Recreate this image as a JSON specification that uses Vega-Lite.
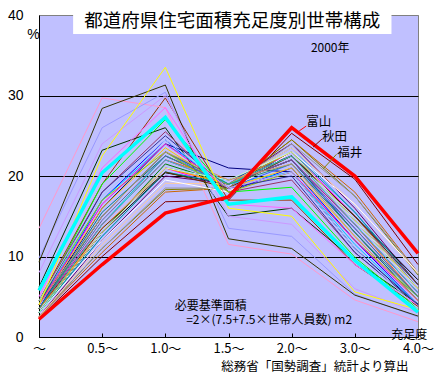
{
"$schema": "https://vega.github.io/schema/vega-lite/v6.json",
"width": 379, "height": 322,
"autosize": "none",
"padding": {"left": 39, "top": 15, "right": 28, "bottom": 36},
"background": "white",
"config": {"view": {"fill": "#c0c0ff", "stroke": "#808080"}, "font": "Noto Sans CJK JP"},
"datasets": {"pref": [
{"p":"北海道","i":0,"v":3.5},{"p":"北海道","i":1,"v":16},{"p":"北海道","i":2,"v":24},{"p":"北海道","i":3,"v":21},{"p":"北海道","i":4,"v":20.5},{"p":"北海道","i":5,"v":11},{"p":"北海道","i":6,"v":4},
{"p":"青森","i":0,"v":3},{"p":"青森","i":1,"v":13},{"p":"青森","i":2,"v":21},{"p":"青森","i":3,"v":18.5},{"p":"青森","i":4,"v":23},{"p":"青森","i":5,"v":15},{"p":"青森","i":6,"v":6.5},
{"p":"岩手","i":0,"v":3},{"p":"岩手","i":1,"v":12.5},{"p":"岩手","i":2,"v":20.5},{"p":"岩手","i":3,"v":19},{"p":"岩手","i":4,"v":23.5},{"p":"岩手","i":5,"v":15.5},{"p":"岩手","i":6,"v":6},
{"p":"宮城","i":0,"v":3.5},{"p":"宮城","i":1,"v":17},{"p":"宮城","i":2,"v":24.5},{"p":"宮城","i":3,"v":18},{"p":"宮城","i":4,"v":21},{"p":"宮城","i":5,"v":12},{"p":"宮城","i":6,"v":4},
{"p":"秋田","i":0,"v":2.3},{"p":"秋田","i":1,"v":10},{"p":"秋田","i":2,"v":16.8},{"p":"秋田","i":3,"v":17},{"p":"秋田","i":4,"v":25.3},{"p":"秋田","i":5,"v":19.6},{"p":"秋田","i":6,"v":9},
{"p":"山形","i":0,"v":2.5},{"p":"山形","i":1,"v":10.5},{"p":"山形","i":2,"v":18},{"p":"山形","i":3,"v":18.5},{"p":"山形","i":4,"v":24.5},{"p":"山形","i":5,"v":18},{"p":"山形","i":6,"v":8},
{"p":"福島","i":0,"v":3},{"p":"福島","i":1,"v":14},{"p":"福島","i":2,"v":22.5},{"p":"福島","i":3,"v":19},{"p":"福島","i":4,"v":22},{"p":"福島","i":5,"v":14},{"p":"福島","i":6,"v":5.5},
{"p":"茨城","i":0,"v":3},{"p":"茨城","i":1,"v":14},{"p":"茨城","i":2,"v":22},{"p":"茨城","i":3,"v":19.5},{"p":"茨城","i":4,"v":22.5},{"p":"茨城","i":5,"v":14},{"p":"茨城","i":6,"v":5},
{"p":"栃木","i":0,"v":3.5},{"p":"栃木","i":1,"v":15},{"p":"栃木","i":2,"v":23},{"p":"栃木","i":3,"v":19},{"p":"栃木","i":4,"v":22},{"p":"栃木","i":5,"v":13},{"p":"栃木","i":6,"v":4.5},
{"p":"群馬","i":0,"v":3.5},{"p":"群馬","i":1,"v":15.5},{"p":"群馬","i":2,"v":22.5},{"p":"群馬","i":3,"v":19},{"p":"群馬","i":4,"v":22},{"p":"群馬","i":5,"v":13},{"p":"群馬","i":6,"v":4.5},
{"p":"埼玉","i":0,"v":5.8},{"p":"埼玉","i":1,"v":20.4},{"p":"埼玉","i":2,"v":27.3},{"p":"埼玉","i":3,"v":16.5},{"p":"埼玉","i":4,"v":17.4},{"p":"埼玉","i":5,"v":9.5},{"p":"埼玉","i":6,"v":3.1},
{"p":"千葉","i":0,"v":4.5},{"p":"千葉","i":1,"v":19},{"p":"千葉","i":2,"v":29.7},{"p":"千葉","i":3,"v":17},{"p":"千葉","i":4,"v":17},{"p":"千葉","i":5,"v":9},{"p":"千葉","i":6,"v":3.8},
{"p":"東京","i":0,"v":13.5},{"p":"東京","i":1,"v":29.7},{"p":"東京","i":2,"v":28.5},{"p":"東京","i":3,"v":11.5},{"p":"東京","i":4,"v":10.3},{"p":"東京","i":5,"v":4.6},{"p":"東京","i":6,"v":1.9},
{"p":"神奈川","i":0,"v":6.2},{"p":"神奈川","i":1,"v":23.2},{"p":"神奈川","i":2,"v":26},{"p":"神奈川","i":3,"v":15},{"p":"神奈川","i":4,"v":16},{"p":"神奈川","i":5,"v":9.5},{"p":"神奈川","i":6,"v":4.1},
{"p":"新潟","i":0,"v":2.5},{"p":"新潟","i":1,"v":12},{"p":"新潟","i":2,"v":20},{"p":"新潟","i":3,"v":19},{"p":"新潟","i":4,"v":24},{"p":"新潟","i":5,"v":16},{"p":"新潟","i":6,"v":6.5},
{"p":"富山","i":0,"v":2.2},{"p":"富山","i":1,"v":9},{"p":"富山","i":2,"v":15.4},{"p":"富山","i":3,"v":17.4},{"p":"富山","i":4,"v":26},{"p":"富山","i":5,"v":20},{"p":"富山","i":6,"v":10.4},
{"p":"石川","i":0,"v":3},{"p":"石川","i":1,"v":13},{"p":"石川","i":2,"v":21.5},{"p":"石川","i":3,"v":19},{"p":"石川","i":4,"v":23},{"p":"石川","i":5,"v":14.5},{"p":"石川","i":6,"v":6},
{"p":"福井","i":0,"v":2.5},{"p":"福井","i":1,"v":11},{"p":"福井","i":2,"v":18.3},{"p":"福井","i":3,"v":18.5},{"p":"福井","i":4,"v":24.5},{"p":"福井","i":5,"v":17.5},{"p":"福井","i":6,"v":7.7},
{"p":"山梨","i":0,"v":3.5},{"p":"山梨","i":1,"v":14},{"p":"山梨","i":2,"v":22},{"p":"山梨","i":3,"v":19},{"p":"山梨","i":4,"v":22},{"p":"山梨","i":5,"v":14},{"p":"山梨","i":6,"v":5.5},
{"p":"長野","i":0,"v":3},{"p":"長野","i":1,"v":13},{"p":"長野","i":2,"v":21},{"p":"長野","i":3,"v":19.5},{"p":"長野","i":4,"v":22.5},{"p":"長野","i":5,"v":15},{"p":"長野","i":6,"v":6},
{"p":"岐阜","i":0,"v":2.5},{"p":"岐阜","i":1,"v":11},{"p":"岐阜","i":2,"v":18.5},{"p":"岐阜","i":3,"v":18.5},{"p":"岐阜","i":4,"v":24},{"p":"岐阜","i":5,"v":17.5},{"p":"岐阜","i":6,"v":8},
{"p":"静岡","i":0,"v":4},{"p":"静岡","i":1,"v":17},{"p":"静岡","i":2,"v":24},{"p":"静岡","i":3,"v":19},{"p":"静岡","i":4,"v":20.5},{"p":"静岡","i":5,"v":11.5},{"p":"静岡","i":6,"v":4},
{"p":"愛知","i":0,"v":4},{"p":"愛知","i":1,"v":19},{"p":"愛知","i":2,"v":27},{"p":"愛知","i":3,"v":18},{"p":"愛知","i":4,"v":18.6},{"p":"愛知","i":5,"v":9.9},{"p":"愛知","i":6,"v":3.5},
{"p":"三重","i":0,"v":3},{"p":"三重","i":1,"v":13.5},{"p":"三重","i":2,"v":21},{"p":"三重","i":3,"v":19},{"p":"三重","i":4,"v":22.5},{"p":"三重","i":5,"v":15},{"p":"三重","i":6,"v":6},
{"p":"滋賀","i":0,"v":2.5},{"p":"滋賀","i":1,"v":11.5},{"p":"滋賀","i":2,"v":19.1},{"p":"滋賀","i":3,"v":19},{"p":"滋賀","i":4,"v":23.5},{"p":"滋賀","i":5,"v":16.5},{"p":"滋賀","i":6,"v":7.9},
{"p":"京都","i":0,"v":9.8},{"p":"京都","i":1,"v":26},{"p":"京都","i":2,"v":30.4},{"p":"京都","i":3,"v":13.5},{"p":"京都","i":4,"v":12.5},{"p":"京都","i":5,"v":5.3},{"p":"京都","i":6,"v":2.5},
{"p":"大阪","i":0,"v":9.3},{"p":"大阪","i":1,"v":28.4},{"p":"大阪","i":2,"v":31.3},{"p":"大阪","i":3,"v":12.2},{"p":"大阪","i":4,"v":11},{"p":"大阪","i":5,"v":5.2},{"p":"大阪","i":6,"v":2.6},
{"p":"兵庫","i":0,"v":8},{"p":"兵庫","i":1,"v":24},{"p":"兵庫","i":2,"v":30},{"p":"兵庫","i":3,"v":15},{"p":"兵庫","i":4,"v":14},{"p":"兵庫","i":5,"v":6},{"p":"兵庫","i":6,"v":3},
{"p":"奈良","i":0,"v":3},{"p":"奈良","i":1,"v":12},{"p":"奈良","i":2,"v":19.5},{"p":"奈良","i":3,"v":18},{"p":"奈良","i":4,"v":23},{"p":"奈良","i":5,"v":16.5},{"p":"奈良","i":6,"v":8},
{"p":"和歌山","i":0,"v":3},{"p":"和歌山","i":1,"v":13},{"p":"和歌山","i":2,"v":20.4},{"p":"和歌山","i":3,"v":19},{"p":"和歌山","i":4,"v":22.5},{"p":"和歌山","i":5,"v":15},{"p":"和歌山","i":6,"v":7.1},
{"p":"鳥取","i":0,"v":3},{"p":"鳥取","i":1,"v":12.5},{"p":"鳥取","i":2,"v":20.5},{"p":"鳥取","i":3,"v":19},{"p":"鳥取","i":4,"v":23},{"p":"鳥取","i":5,"v":15.5},{"p":"鳥取","i":6,"v":6.5},
{"p":"島根","i":0,"v":3.5},{"p":"島根","i":1,"v":13.5},{"p":"島根","i":2,"v":20.5},{"p":"島根","i":3,"v":18.5},{"p":"島根","i":4,"v":22.5},{"p":"島根","i":5,"v":15},{"p":"島根","i":6,"v":6.5},
{"p":"岡山","i":0,"v":3.5},{"p":"岡山","i":1,"v":15},{"p":"岡山","i":2,"v":23},{"p":"岡山","i":3,"v":18.5},{"p":"岡山","i":4,"v":21.5},{"p":"岡山","i":5,"v":13.5},{"p":"岡山","i":6,"v":5},
{"p":"広島","i":0,"v":4.5},{"p":"広島","i":1,"v":18},{"p":"広島","i":2,"v":25.5},{"p":"広島","i":3,"v":18},{"p":"広島","i":4,"v":19.5},{"p":"広島","i":5,"v":10.5},{"p":"広島","i":6,"v":4},
{"p":"山口","i":0,"v":3.5},{"p":"山口","i":1,"v":14.5},{"p":"山口","i":2,"v":22.5},{"p":"山口","i":3,"v":19},{"p":"山口","i":4,"v":22},{"p":"山口","i":5,"v":13.5},{"p":"山口","i":6,"v":5},
{"p":"徳島","i":0,"v":3.5},{"p":"徳島","i":1,"v":13},{"p":"徳島","i":2,"v":21},{"p":"徳島","i":3,"v":19},{"p":"徳島","i":4,"v":23},{"p":"徳島","i":5,"v":14.5},{"p":"徳島","i":6,"v":6},
{"p":"香川","i":0,"v":3},{"p":"香川","i":1,"v":14},{"p":"香川","i":2,"v":22},{"p":"香川","i":3,"v":19},{"p":"香川","i":4,"v":22.5},{"p":"香川","i":5,"v":14},{"p":"香川","i":6,"v":5.5},
{"p":"愛媛","i":0,"v":4},{"p":"愛媛","i":1,"v":16},{"p":"愛媛","i":2,"v":23.5},{"p":"愛媛","i":3,"v":18.5},{"p":"愛媛","i":4,"v":21},{"p":"愛媛","i":5,"v":12.5},{"p":"愛媛","i":6,"v":4.5},
{"p":"高知","i":0,"v":4.5},{"p":"高知","i":1,"v":17},{"p":"高知","i":2,"v":23},{"p":"高知","i":3,"v":18},{"p":"高知","i":4,"v":20.5},{"p":"高知","i":5,"v":12},{"p":"高知","i":6,"v":5},
{"p":"福岡","i":0,"v":5},{"p":"福岡","i":1,"v":21},{"p":"福岡","i":2,"v":28.5},{"p":"福岡","i":3,"v":16.5},{"p":"福岡","i":4,"v":16},{"p":"福岡","i":5,"v":9},{"p":"福岡","i":6,"v":4},
{"p":"佐賀","i":0,"v":3},{"p":"佐賀","i":1,"v":13},{"p":"佐賀","i":2,"v":21},{"p":"佐賀","i":3,"v":19.5},{"p":"佐賀","i":4,"v":23},{"p":"佐賀","i":5,"v":14.5},{"p":"佐賀","i":6,"v":6},
{"p":"長崎","i":0,"v":4},{"p":"長崎","i":1,"v":18},{"p":"長崎","i":2,"v":25},{"p":"長崎","i":3,"v":18.5},{"p":"長崎","i":4,"v":20},{"p":"長崎","i":5,"v":10.5},{"p":"長崎","i":6,"v":4},
{"p":"熊本","i":0,"v":3.5},{"p":"熊本","i":1,"v":15},{"p":"熊本","i":2,"v":23},{"p":"熊本","i":3,"v":19},{"p":"熊本","i":4,"v":21.5},{"p":"熊本","i":5,"v":13},{"p":"熊本","i":6,"v":5},
{"p":"大分","i":0,"v":4},{"p":"大分","i":1,"v":16.5},{"p":"大分","i":2,"v":24},{"p":"大分","i":3,"v":18.5},{"p":"大分","i":4,"v":20.5},{"p":"大分","i":5,"v":12},{"p":"大分","i":6,"v":4.5},
{"p":"宮崎","i":0,"v":4},{"p":"宮崎","i":1,"v":15},{"p":"宮崎","i":2,"v":23},{"p":"宮崎","i":3,"v":19.5},{"p":"宮崎","i":4,"v":21.5},{"p":"宮崎","i":5,"v":12.5},{"p":"宮崎","i":6,"v":4.5},
{"p":"鹿児島","i":0,"v":4.5},{"p":"鹿児島","i":1,"v":17.5},{"p":"鹿児島","i":2,"v":24.5},{"p":"鹿児島","i":3,"v":18.5},{"p":"鹿児島","i":4,"v":20.5},{"p":"鹿児島","i":5,"v":11},{"p":"鹿児島","i":6,"v":3.5},
{"p":"沖縄","i":0,"v":4},{"p":"沖縄","i":1,"v":22.5},{"p":"沖縄","i":2,"v":33.5},{"p":"沖縄","i":3,"v":16},{"p":"沖縄","i":4,"v":15},{"p":"沖縄","i":5,"v":5.6},{"p":"沖縄","i":6,"v":3.4}
]},
"layer": [
{
 "data": {"name": "pref"},
 "transform": [{"filter": "datum.p !== '富山' && datum.p !== '埼玉'"}],
 "mark": {"type": "line", "strokeWidth": 1},
 "encoding": {
  "x": {"field": "i", "type": "quantitative", "scale": {"domain": [0, 6], "nice": false, "zero": false},
   "axis": {"values": [0,1,2,3,4,5,6], "labelExpr": "['～','0.5～','1.0～','1.5～','2.0～','3.0～','4.0～'][datum.value]", "grid": false, "domainColor": "black", "tickColor": "black", "tickSize": -4, "labelPadding": 9, "labelFontSize": 13, "labelColor": "black", "labelFont": "Noto Sans CJK JP", "labelFlush": false, "labelOverlap": false, "title": "総務省「国勢調査」統計より算出", "titleX": 369, "titleY": 29, "titleAlign": "right", "titleAnchor": null, "titleBaseline": "middle", "titleFontWeight": "normal", "titleFontSize": 12.5, "titleColor": "black", "titleFont": "Noto Sans CJK JP"}},
  "y": {"field": "v", "type": "quantitative", "scale": {"domain": [0, 40], "nice": false},
   "axis": {"values": [0,10,20,30,40], "grid": true, "gridColor": {"condition": {"test": "datum.value === 40", "value": "#808080"}, "value": "black"}, "gridOpacity": 1, "ticks": false, "domainColor": "black", "labelPadding": 16, "labelFontSize": 14, "labelColor": "black", "labelFont": "Liberation Sans", "title": "%", "titleAngle": 0, "titleX": -6, "titleY": 19, "titleAlign": "center", "titleBaseline": "middle", "titleFontSize": 14, "titleFontWeight": "normal", "titleColor": "black", "titleFont": "Liberation Sans"}},
  "color": {"field": "p", "type": "nominal", "legend": null, "scale": {
   "domain": ["北海道","青森","岩手","宮城","秋田","山形","福島","茨城","栃木","群馬","埼玉","千葉","東京","神奈川","新潟","富山","石川","福井","山梨","長野","岐阜","静岡","愛知","三重","滋賀","京都","大阪","兵庫","奈良","和歌山","鳥取","島根","岡山","広島","山口","徳島","香川","愛媛","高知","福岡","佐賀","長崎","熊本","大分","宮崎","鹿児島","沖縄"],
   "range": ["#000080","#ff00ff","#3399ff","#0000ff","#800000","#cc6600","#00cccc","#ff6600","#800080","#008080","#00ffff","#993300","#ff99cc","#003300","#660066","#ff0000","#008000","#808000","#cc0099","#0066cc","#969696","#00ccff","#00ff00","#ffa040","#ffcc99","#9999ff","#333300","#cc99ff","#ffffff","#000000","#009999","#663300","#3366ff","#993366","#666699","#ff9900","#33cccc","#ffcc00","#99cc00","#ff66ff","#ccffcc","#333399","#339966","#ff00cc","#cc9966","#99ccff","#ffff00"]}}
 }
},
{
 "data": {"name": "pref"},
 "transform": [{"filter": "datum.p === '埼玉'"}],
 "mark": {"type": "line", "strokeWidth": 3.5, "color": "#00ffff"},
 "encoding": {"x": {"field": "i", "type": "quantitative"}, "y": {"field": "v", "type": "quantitative"}}
},
{
 "data": {"name": "pref"},
 "transform": [{"filter": "datum.p === '富山'"}],
 "mark": {"type": "line", "strokeWidth": 3.5, "color": "#ff0000"},
 "encoding": {"x": {"field": "i", "type": "quantitative"}, "y": {"field": "v", "type": "quantitative"}}
},
{
 "data": {"values": [{}]},
 "mark": {"type": "rect", "fill": "white"},
 "encoding": {"x": {"datum": 0.54}, "x2": {"datum": 5.58}, "y": {"datum": 40.1}, "y2": {"datum": 37.64}}
},
{
 "data": {"values": [{}]},
 "mark": {"type": "text", "text": "都道府県住宅面積充足度別世帯構成", "fontSize": 18.5, "font": "Noto Sans CJK JP", "align": "center", "baseline": "middle", "color": "black"},
 "encoding": {"x": {"datum": 3.06}, "y": {"datum": 39.2}}
},
{
 "data": {"values": [{}]},
 "mark": {"type": "text", "text": "2000年", "fontSize": 12, "font": "Noto Sans CJK JP", "align": "center", "baseline": "middle", "color": "black"},
 "encoding": {"x": {"datum": 4.61}, "y": {"datum": 35.9}}
},
{
 "data": {"values": [{}]},
 "mark": {"type": "rule", "color": "#ff0000", "strokeWidth": 1},
 "encoding": {"x": {"datum": 4.12}, "y": {"datum": 25.6}, "x2": {"datum": 4.23}, "y2": {"datum": 26.2}}
},
{
 "data": {"values": [{}]},
 "mark": {"type": "rule", "color": "#800000", "strokeWidth": 1},
 "encoding": {"x": {"datum": 4.34}, "y": {"datum": 23.6}, "x2": {"datum": 4.48}, "y2": {"datum": 24.6}}
},
{
 "data": {"values": [{}]},
 "mark": {"type": "rule", "color": "#808000", "strokeWidth": 1},
 "encoding": {"x": {"datum": 4.5}, "y": {"datum": 20.9}, "x2": {"datum": 4.71}, "y2": {"datum": 22.7}}
},
{
 "data": {"values": [{}]},
 "mark": {"type": "text", "text": "富山", "fontSize": 12.5, "font": "Noto Sans CJK JP", "align": "left", "baseline": "middle", "color": "black"},
 "encoding": {"x": {"datum": 4.23}, "y": {"datum": 26.7}}
},
{
 "data": {"values": [{}]},
 "mark": {"type": "text", "text": "秋田", "fontSize": 12.5, "font": "Noto Sans CJK JP", "align": "left", "baseline": "middle", "color": "black"},
 "encoding": {"x": {"datum": 4.48}, "y": {"datum": 24.8}}
},
{
 "data": {"values": [{}]},
 "mark": {"type": "text", "text": "福井", "fontSize": 12.5, "font": "Noto Sans CJK JP", "align": "left", "baseline": "middle", "color": "black"},
 "encoding": {"x": {"datum": 4.72}, "y": {"datum": 22.9}}
},
{
 "data": {"values": [{}]},
 "mark": {"type": "text", "text": "必要基準面積", "fontSize": 12, "font": "Noto Sans CJK JP", "align": "left", "baseline": "middle", "color": "black"},
 "encoding": {"x": {"datum": 2.15}, "y": {"datum": 3.9}}
},
{
 "data": {"values": [{}]},
 "mark": {"type": "text", "text": "=2×(7.5+7.5×世帯人員数) m2", "fontSize": 12, "font": "Noto Sans CJK JP", "align": "left", "baseline": "middle", "color": "black"},
 "encoding": {"x": {"datum": 2.33}, "y": {"datum": 2.1}}
},
{
 "data": {"values": [{}]},
 "mark": {"type": "text", "text": "充足度", "fontSize": 12, "font": "Noto Sans CJK JP", "align": "center", "baseline": "middle", "color": "black"},
 "encoding": {"x": {"datum": 5.86}, "y": {"datum": 0.3}}
}
]
}
